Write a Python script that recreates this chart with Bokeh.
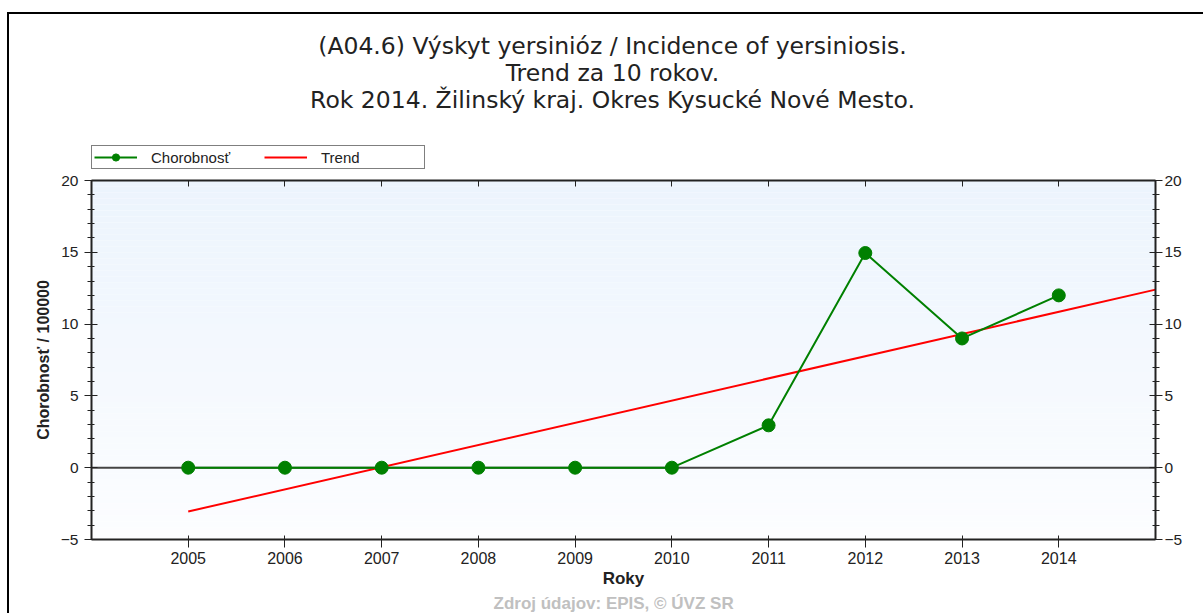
from bokeh.plotting import figure
from bokeh.layouts import column
from bokeh.models import (Range1d, LinearAxis, FixedTicker, Legend, LegendItem,
                          Label, Span, BoxAnnotation, Grid, Title)
from bokeh.embed import file_html
from bokeh.resources import INLINE

# ---------------- data ----------------
years = [2005, 2006, 2007, 2008, 2009, 2010, 2011, 2012, 2013, 2014]
incidence = [0, 0, 0, 0, 0, 0, 2.95, 14.95, 9.0, 12.0]
trend_years = [2005, 2015]
trend_values = [-3.05, 12.4]
y_ticks = [-5, 0, 5, 10, 15, 20]
y_minor_ticks = [v for v in range(-5, 21) if v % 5 != 0]
title_lines = [
    "(A04.6) Výskyt yersinióz / Incidence of yersiniosis.",
    "Trend za 10 rokov.",
    "Rok 2014. Žilinský kraj. Okres Kysucké Nové Mesto.",
]
series_label = "Chorobnosť"
trend_label = "Trend"
x_title = "Roky"
y_title = "Chorobnosť / 100000"
source_text = "Zdroj údajov: EPIS, © ÚVZ SR"

# ---------------- layout ----------------
W = 1194
HT = 156           # header figure (titles + legend)
HM = 443           # main figure
FL, FR = 82, 1146
MB_TOP, MB_BOTTOM = 10, 74
FONT = "Liberation Sans"
TFONT = "DejaVu Sans"
AX = "#222222"
GREEN = "#008000"
RED = "#ff0000"

# ---------- header figure ----------
head = figure(width=W, height=HT, x_range=Range1d(0, 1), y_range=Range1d(0, 1),
              output_backend="svg", toolbar_location=None,
              x_axis_location=None, y_axis_location=None,
              min_border_left=0, min_border_right=0, min_border_top=0, min_border_bottom=0)
head.center = [r for r in head.center if not isinstance(r, Grid)]
head.outline_line_color = None
head.background_fill_color = "white"
head.border_fill_color = "white"

for t, yy in zip(title_lines, [31, 58, 85]):
    head.add_layout(Label(x=612 - 9 - FL, y=HT - yy, x_units="screen", y_units="screen",
                          text=t, text_align="center", text_baseline="middle",
                          text_font=TFONT, text_font_size="23.5px", text_color=AX))

# hidden copies of the series, used only to draw the legend swatches
lg_line = head.line(years, incidence, line_color=GREEN, line_width=2, visible=False)
lg_mark = head.scatter(years, incidence, size=13, fill_color=GREEN, line_color=GREEN,
                       visible=False)
lg_trend = head.line(trend_years, trend_values, line_color=RED, line_width=2, visible=False)
legend = Legend(items=[LegendItem(label=series_label, renderers=[lg_line, lg_mark]),
                       LegendItem(label=trend_label, renderers=[lg_trend])],
                orientation="horizontal", location=(0, 1), margin=0,
                padding=2, spacing=12, glyph_width=43, glyph_height=18,
                label_width=101, label_height=16, label_standoff=14,
                label_text_font=FONT, label_text_font_size="15px",
                label_text_color=AX, border_line_color="black", border_line_width=1.5,
                background_fill_color="white", background_fill_alpha=1,
                inactive_fill_alpha=0)
head.add_layout(legend)

# ---------- main figure ----------
p = figure(width=W, height=HM, x_range=Range1d(2004, 2015), y_range=Range1d(-5, 20),
           output_backend="svg", toolbar_location=None,
           x_axis_location=None, y_axis_location=None,
           min_border_left=FL, min_border_right=W - FR,
           min_border_top=MB_TOP, min_border_bottom=MB_BOTTOM)
p.center = [r for r in p.center if not isinstance(r, Grid)]
p.outline_line_color = None
p.background_fill_color = "white"
p.border_fill_color = "white"

# gradient background of plot area (style only)
N = 60
top_c = (236, 244, 253)
bot_c = (252, 253, 255)
for i in range(N):
    f = i / (N - 1)
    c = tuple(int(round(top_c[k] + (bot_c[k] - top_c[k]) * f)) for k in range(3))
    y1 = 20 - 25 * i / N
    y0 = 20 - 25 * (i + 1) / N
    p.add_layout(BoxAnnotation(bottom=y0, top=y1, fill_color="#%02x%02x%02x" % c,
                               fill_alpha=1, line_alpha=0, level="underlay"))

p.add_layout(Span(location=0, dimension="width", line_color="#444444",
                  line_width=2, level="underlay"))


def yaxis(with_label):
    ax = LinearAxis(ticker=FixedTicker(ticks=y_ticks, minor_ticks=y_minor_ticks))
    ax.axis_line_color = AX
    ax.axis_line_width = 2
    ax.major_tick_line_color = AX
    ax.minor_tick_line_color = AX
    ax.major_tick_in = 6
    ax.major_tick_out = 7
    ax.minor_tick_in = 3
    ax.minor_tick_out = 4
    ax.major_label_text_font = FONT
    ax.major_label_text_font_size = "15.5px"
    ax.major_label_text_color = AX
    if with_label:
        ax.axis_label = y_title
        ax.axis_label_text_font = FONT
        ax.axis_label_text_font_style = "bold"
        ax.axis_label_text_font_size = "16px"
        ax.axis_label_text_color = AX
        ax.axis_label_standoff = 6
        ax.major_label_standoff = 6
    else:
        ax.major_label_standoff = 2
    return ax


p.add_layout(yaxis(True), "left")
p.add_layout(yaxis(False), "right")

xb = LinearAxis(ticker=FixedTicker(ticks=years, minor_ticks=[]))
xb.axis_line_color = AX
xb.axis_line_width = 2
xb.major_tick_line_color = AX
xb.major_tick_in = 4
xb.major_tick_out = 8
xb.major_label_text_font = FONT
xb.major_label_text_font_size = "16px"
xb.major_label_text_color = AX
xb.major_label_standoff = 4
xb.axis_label = x_title
xb.axis_label_text_font = FONT
xb.axis_label_text_font_style = "bold"
xb.axis_label_text_font_size = "17px"
xb.axis_label_text_color = AX
xb.axis_label_standoff = 2
p.add_layout(xb, "below")

xt = LinearAxis(ticker=FixedTicker(ticks=years, minor_ticks=[]))
xt.axis_line_color = AX
xt.axis_line_width = 2
xt.major_tick_line_color = AX
xt.major_tick_in = 6
xt.major_tick_out = 0
xt.major_label_standoff = 0
xt.major_label_text_font_size = "0px"
xt.major_label_text_alpha = 0
p.add_layout(xt, "above")

# data
tr = p.line(trend_years, trend_values, line_color=RED, line_width=2)
ln = p.line(years, incidence, line_color=GREEN, line_width=2)
sc = p.scatter(years, incidence, size=13, fill_color=GREEN, line_color=GREEN)

p.add_layout(Title(text=source_text, align="left", offset=402, standoff=2,
                   text_font=FONT, text_font_size="17px", text_font_style="bold",
                   text_color="#c0c0c0"), "below")

layout = column(head, p, spacing=0,
                styles={"position": "relative", "top": "12px", "left": "7px",
                        "border-top": "2px solid #000", "border-left": "2px solid #000"})

open("out.html", "w").write(file_html(layout, INLINE))
